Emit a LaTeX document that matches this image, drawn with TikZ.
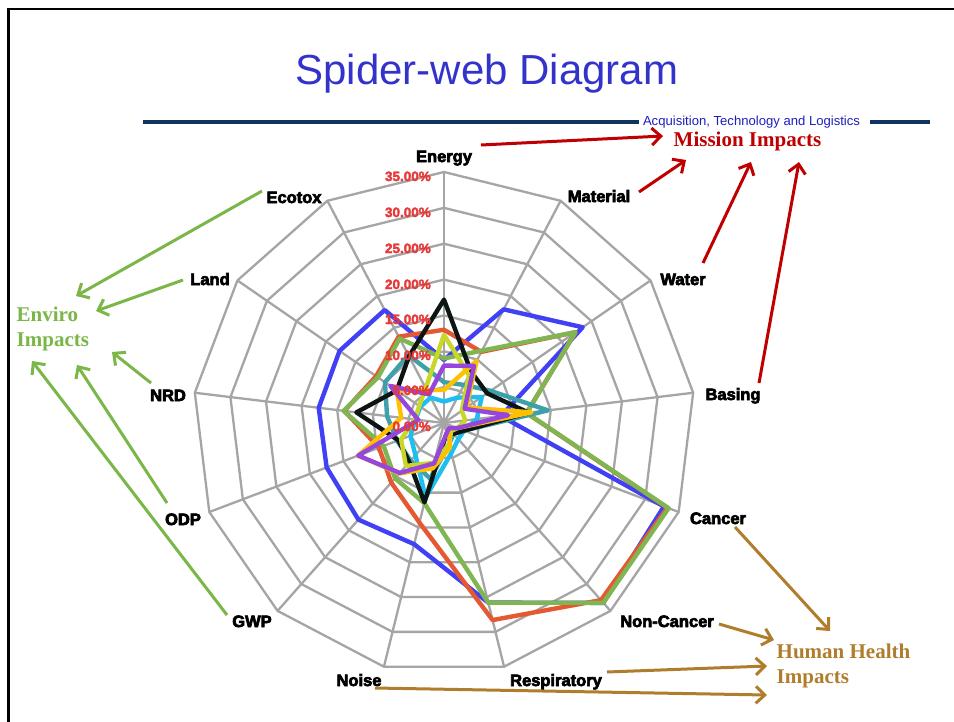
\documentclass[tikz,border=0pt]{standalone}
\usepackage{fontspec}
\setmainfont{Liberation Serif}
\setsansfont{Liberation Sans}
\newfontfamily\axisfont{Liberation Sans Bold}[FakeBold=4]
\newfontfamily\pctfont{Liberation Sans Bold}[FakeBold=2.5]
\usetikzlibrary{arrows.meta}

\definecolor{titleblue}{RGB}{51,51,204}
\definecolor{navybar}{RGB}{16,52,98}
\definecolor{atlblue}{RGB}{30,30,190}
\definecolor{webgray}{RGB}{165,165,165}
\definecolor{pctred}{RGB}{232,56,56}
\definecolor{missionred}{RGB}{192,0,0}
\definecolor{envgreen}{RGB}{122,182,72}
\definecolor{healthbrown}{RGB}{176,125,45}
\definecolor{sBlue}{RGB}{64,64,245}
\definecolor{sOrange}{RGB}{228,88,50}
\definecolor{sGreen}{RGB}{128,182,82}
\definecolor{sBlack}{RGB}{12,20,20}
\definecolor{sTeal}{RGB}{62,160,170}
\definecolor{sCyan}{RGB}{30,190,240}
\definecolor{sLime}{RGB}{200,215,40}
\definecolor{sYellow}{RGB}{255,192,0}
\definecolor{sPurple}{RGB}{150,70,220}

\tikzset{
  web/.style={draw=webgray, line width=2.3pt, line join=round},
  series/.style={line width=4.4pt, line join=round, line cap=round},
  axlab/.style={font=\axisfont\fontsize{16.5}{16.5}\selectfont, text=black, anchor=base, inner sep=0pt},
  pctlab/.style={font=\pctfont\fontsize{13.5}{13.5}\selectfont, text=pctred, anchor=base east, inner sep=0pt},
  grouplab/.style={font=\rmfamily\bfseries\fontsize{21}{25}\selectfont, align=left, inner sep=0pt},
  grparrow/.style={line width=3pt, -{Straight Barb[length=9pt,width=17pt]}},
}

% radius of one percent on the web
\newcommand\pctunit{7.1714}
% draws one closed data line over the 13 spokes
\newcommand\radarseries[2]{%
  \foreach \v [count=\ii from 0] in {#2}{%
    \coordinate (q\ii) at ({444+\v*\pctunit*sin(\ii*360/13)},{423-\v*\pctunit*cos(\ii*360/13)});}
  \draw[series,#1] (q0) \foreach \ii in {1,...,12}{ -- (q\ii)} -- cycle;
}

\begin{document}
\begin{tikzpicture}[x=1pt,y=-1pt]
\useasboundingbox (0,0) rectangle (954,721);
\fill[white] (0,0) rectangle (954,721);

% slide frame
\draw[black, line width=2.6pt] (8.5,730) -- (8.5,9) -- (960,9);

% title and header rule
\node[text=titleblue, font=\sffamily\fontsize{42}{42}\selectfont, anchor=base] (title) at (487,84) {Spider-web Diagram};
\node[text=atlblue, font=\sffamily\fontsize{13.1}{13.1}\selectfont, inner sep=0pt] (atl) at (751.5,122) {Acquisition, Technology and Logistics};
\coordinate (barL) at (143,122);
\coordinate (barR) at (930,122);
\draw[navybar, line width=4pt] (barL) -- ([xshift=-4pt]atl.west);
\draw[navybar, line width=4pt] ([xshift=10pt]atl.east) -- (barR);

% the web: rings and spokes
\begin{scope}[shift={(444,423)}]
  \foreach \k in {1,...,7}{
    \draw[web] (0,-\k*35.857) \foreach \i in {1,...,12}{ -- ({\k*35.857*sin(\i*360/13)},{-\k*35.857*cos(\i*360/13)}) } -- cycle;
  }
  \foreach \i in {0,...,12}
    \draw[web] (0,0) -- ({251*sin(\i*360/13)},{-251*cos(\i*360/13)});
\end{scope}

% data lines: Energy, Material, Water, Basing, Cancer, Non-Cancer,
% Respiratory, Noise, GWP, ODP, NRD, Land, Ecotox
\radarseries{sBlue}{8.8,17.9,23.5,8,32.8,33.5,25.8,17.4,18,17.5,17.6,17.7,17.8}
\radarseries{sOrange}{13,11.2,22.3,11.6,33.3,33,28.3,14.3,11.1,9.7,14,11.5,13.6}
\radarseries{sGreen}{9,11.4,22.3,11.6,33.5,33.5,25.8,11.5,10.3,9,14.1,11.2,13.3}
\radarseries{sCyan}{3,4,6.4,4.6,3,3,4.3,10.7,6,5,4,4,4}
\radarseries{sTeal}{5.7,6,7.9,14.6,3,2,3,8,7,7,8,10,10.7}
\radarseries{sBlack}{17.2,8.1,7.3,11.9,3,2,1.5,11.4,7.3,6.8,12.3,8,10.5}
\radarseries{sLime}{12.3,7.5,3,3,2,1.5,3,5.7,8,6.4,4.1,4.2,5.5}
\radarseries{sYellow}{4.6,9.8,3.8,12.3,2,1,3.5,6.5,9.4,12.8,6,8,5.2}
\radarseries{sPurple}{8,9,3.5,9,2,1,1.5,5.8,9.3,12.8,3.6,9.1,4.5}

% scale labels
\node[pctlab] (p35) at (431,181) {35.00\%};
\node[pctlab] (p30) at (431,217) {30.00\%};
\node[pctlab] (p25) at (431,253) {25.00\%};
\node[pctlab] (p20) at (431,289) {20.00\%};
\node[pctlab] (p15) at (431,324) {15.00\%};
\node[pctlab] (p10) at (431,360) {10.00\%};
\node[pctlab] (p05) at (431,395) {5.00\%};
\node[pctlab] (p00) at (431,431) {0.00\%};

% axis labels
\node[axlab] (lEnergy)  at (444,162) {Energy};
\node[axlab] (lMaterial) at (599,202) {Material};
\node[axlab] (lWater)   at (683,285) {Water};
\node[axlab] (lBasing)  at (733,400) {Basing};
\node[axlab] (lCancer)  at (718,524) {Cancer};
\node[axlab] (lNonCancer) at (667,627) {Non-Cancer};
\node[axlab] (lResp)    at (556,686) {Respiratory};
\node[axlab] (lNoise)   at (359,686) {Noise};
\node[axlab] (lGWP)     at (252,627) {GWP};
\node[axlab] (lODP)     at (183,525) {ODP};
\node[axlab] (lNRD)     at (168,401) {NRD};
\node[axlab] (lLand)    at (210,285) {Land};
\node[axlab] (lEcotox)  at (294,203) {Ecotox};

% impact groups
\node[grouplab, text=missionred, anchor=base] (mission) at (747.5,146) {Mission Impacts};
\node[grouplab, text=envgreen, anchor=base west] (enviro) at (16.5,346) {Enviro\\Impacts};
\node[grouplab, text=healthbrown, anchor=base west] (health) at (776.5,683) {Human Health\\Impacts};

% mission arrows
\coordinate (mt1) at (481,145);  \coordinate (mh1) at (663,136);
\coordinate (mt2) at (639,192);  \coordinate (mh2) at (686,160);
\coordinate (mt3) at (703,263);  \coordinate (mh3) at (751,162);
\coordinate (mt4) at (759,383);  \coordinate (mh4) at (799,162);
\foreach \n in {1,...,4} \draw[grparrow, missionred] (mt\n) -- (mh\n);

% environmental arrows
\coordinate (et1) at (262,191);  \coordinate (eh1) at (76,296);
\coordinate (et2) at (183,280);  \coordinate (eh2) at (96,311);
\coordinate (et3) at (151,383);  \coordinate (eh3) at (112,352);
\coordinate (et4) at (167,503);  \coordinate (eh4) at (77,365);
\coordinate (et5) at (227,615);  \coordinate (eh5) at (32,361);
\foreach \n in {1,...,5} \draw[grparrow, envgreen] (et\n) -- (eh\n);

% human health arrows
\coordinate (ht1) at (735,527);  \coordinate (hh1) at (830,631);
\coordinate (ht2) at (719,624);  \coordinate (hh2) at (774,640);
\coordinate (ht3) at (607,672);  \coordinate (hh3) at (767,666);
\coordinate (ht4) at (375,688);  \coordinate (hh4) at (767,695);
\foreach \n in {1,...,4} \draw[grparrow, healthbrown] (ht\n) -- (hh\n);
\end{tikzpicture}
\end{document}
